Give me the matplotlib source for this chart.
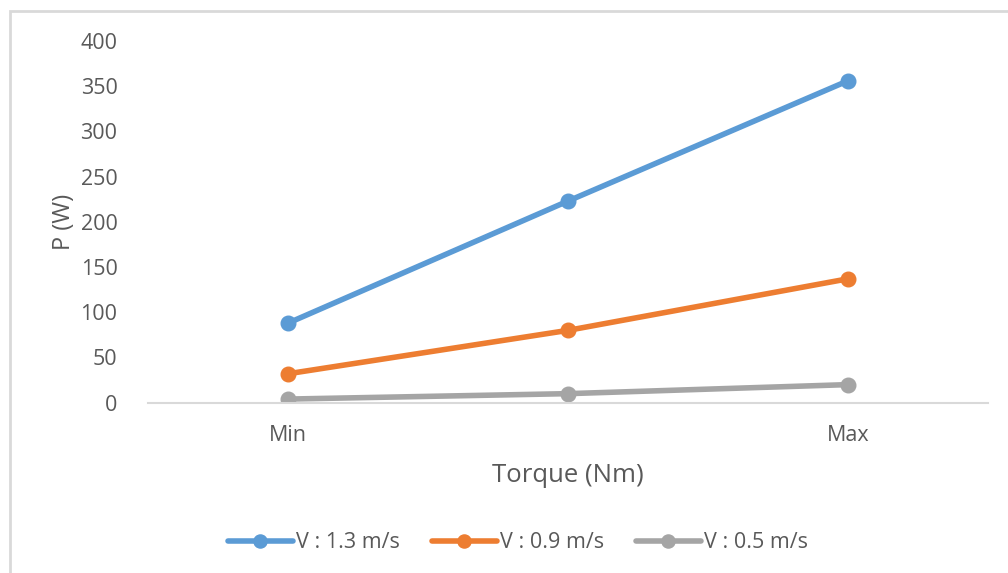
import matplotlib.pyplot as plt
from matplotlib.patches import Rectangle

# Power against torque setting, one series per flow speed
categories = ['Min', '', 'Max']
speed_labels = ['V : 1.3 m/s', 'V : 0.9 m/s', 'V : 0.5 m/s']
power_v13 = [88, 223, 356]
power_v09 = [32, 80, 137]
power_v05 = [4, 10, 20]
y_ticks = [0, 50, 100, 150, 200, 250, 300, 350, 400]

colors = ['#5B9BD5', '#ED7D31', '#A5A5A5']
text_color = '#595959'
plt.rcParams['font.family'] = ['Open Sans', 'DejaVu Sans']

fig = plt.figure(figsize=(10.08, 5.73), dpi=100)
ax = fig.add_axes([148 / 1008, 1 - 402.7 / 573, 840 / 1008, (402.7 - 41) / 573])

x = range(len(categories))
for values, label, color in zip([power_v13, power_v09, power_v05], speed_labels, colors):
    ax.plot(x, values, color=color, lw=4, marker='o', ms=10.5, label=label,
            solid_capstyle='round')

ax.set_xlim(-0.5, 2.5)
ax.set_ylim(0, 400)
ax.set_xticks(list(x))
ax.set_xticklabels(categories)
ax.set_yticks(y_ticks)
ax.tick_params(length=0, labelsize=15.5, colors=text_color)
ax.tick_params(axis='y', pad=22)
ax.tick_params(axis='x', pad=16)

for side in ['top', 'right', 'left']:
    ax.spines[side].set_visible(False)
ax.spines['bottom'].set_color('#D9D9D9')
ax.spines['bottom'].set_linewidth(1.5)

ax.set_xlabel('Torque (Nm)', fontsize=18.5, color=text_color, labelpad=12)
ax.set_ylabel('P (W)', fontsize=17, color=text_color, labelpad=3)

ax.legend(loc='center', bbox_to_anchor=(518 / 1008, 1 - 543 / 573),
          bbox_transform=fig.transFigure, ncol=3, frameon=False,
          fontsize=15.5, labelcolor=text_color, handlelength=3.0,
          handletextpad=0.15, columnspacing=1.5, markerscale=0.9)

# chart frame, clipped at the right and bottom edges
fig.patches.append(Rectangle((9.5 / 1008, -0.1), 1.2, 1 - 10.5 / 573 + 0.1,
                             transform=fig.transFigure, fill=False,
                             edgecolor='#D9D9D9', lw=2))

fig.savefig('out.png', dpi=100)
